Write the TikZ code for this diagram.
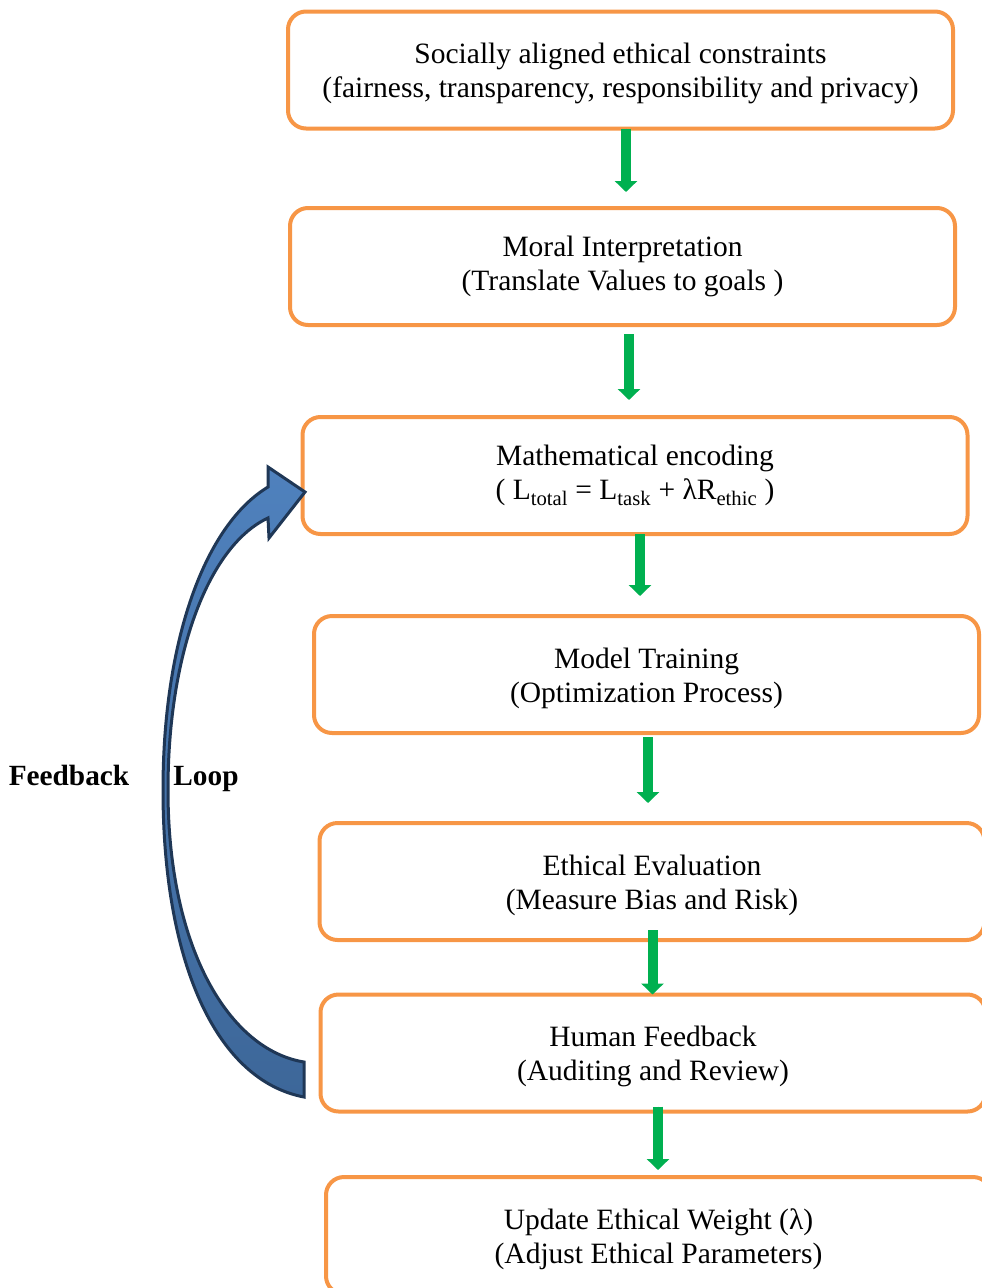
\documentclass[tikz,border=0pt]{standalone}
\usepackage{fontspec}
\setmainfont{Liberation Serif}
\usetikzlibrary{arrows.meta}
\definecolor{boxorange}{HTML}{F79646}
\definecolor{flowgreen}{HTML}{00B050}
\definecolor{looptop}{HTML}{4F81BD}
\definecolor{loopbottom}{HTML}{3D6799}
\definecolor{loopedge}{HTML}{1F3756}
\newcommand{\stagetop}{\rule{0pt}{28pt}}

\begin{document}
\begin{tikzpicture}[x=1pt,y=-1pt]
    \tikzstyle{stage}=[rectangle, draw=boxorange, line width=4pt, rounded corners=18pt, fill=white,
                       minimum width=665pt, minimum height=117pt, align=center, outer sep=0pt,
                       font=\fontsize{29.5}{34}\selectfont]
    \tikzstyle{flow}=[-{Triangle[width=22pt,length=11pt]}, draw=flowgreen, fill=flowgreen, line width=10pt]
    \tikzstyle{looplabel}=[anchor=base, font=\fontsize{29.3}{34}\selectfont\bfseries]
    \useasboundingbox (0,0) rectangle (982,1288);
    \clip (0,0) rectangle (982,1288);

    % stages
    \node[stage] (constraints) at (620.5,70)   {\stagetop Socially aligned ethical constraints\\(fairness, transparency, responsibility and privacy)};
    \node[stage] (moral)       at (622.5,266.5) {Moral Interpretation\\(Translate Values to goals )};
    \node[stage] (encoding)    at (635,475.5)   {Mathematical encoding\\( L\textsubscript{total} = L\textsubscript{task} + λR\textsubscript{ethic} )};
    \node[stage] (training)    at (646.5,674.5) {\stagetop Model Training\\(Optimization Process)};
    \node[stage] (evaluation)  at (652,881.5)   {\stagetop Ethical Evaluation\\(Measure Bias and Risk)};
    \node[stage] (human)       at (653,1053)    {\stagetop Human Feedback\\(Auditing and Review)};
    \node[stage] (update)      at (658.5,1235.5) {\stagetop Update Ethical Weight (λ)\\(Adjust Ethical Parameters)};

    % arrows between stages
    \draw[flow] ([xshift=5.5pt]constraints.south) -- ([xshift=3.5pt,yshift=16pt]moral.north);
    \draw[flow] ([xshift=6.5pt,yshift=-9pt]moral.south) -- ([xshift=-6pt,yshift=17pt]encoding.north);
    \draw[flow] ([xshift=5pt]encoding.south) -- ([xshift=-6.5pt,yshift=20pt]training.north);
    \draw[flow] ([xshift=1.5pt,yshift=-4pt]training.south) -- ([xshift=-4pt,yshift=20pt]evaluation.north);
    \draw[flow] ([xshift=0.5pt,yshift=10pt]evaluation.south) -- ([xshift=-0.5pt]human.north);
    \draw[flow] ([xshift=5pt,yshift=5pt]human.south) -- ([xshift=-0.5pt,yshift=7pt]update.north);

    % feedback loop
    \path[draw=loopedge, top color=looptop, bottom color=loopbottom, line width=3pt, line join=miter]
        (304,1062) .. controls (230,1050) and (168,950) .. (168,790)
                   .. controls (168,650) and (210,545) .. (268,518)
        -- (269,538) -- (305,492) -- (268,467) -- (268,487)
                   .. controls (205,525) and (163,640) .. (163,790)
                   .. controls (163,960) and (215,1080) .. (304,1097) -- cycle;
    \node[looplabel] (fb)   at (69,785)  {Feedback};
    \node[looplabel] (loop) at (206,785) {Loop};

\end{tikzpicture}
\end{document}
